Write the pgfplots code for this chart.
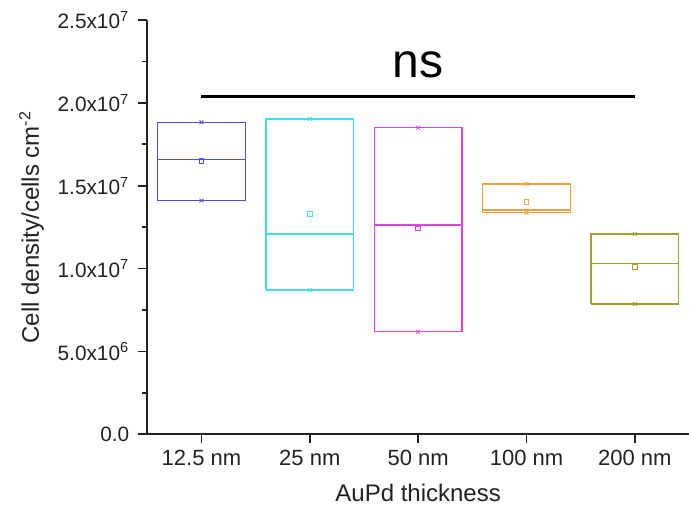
\documentclass[border=0pt]{standalone}
\usepackage{fontspec}
\setmainfont{Liberation Sans}
\usepackage{pgfplots}
\pgfplotsset{compat=1.18}
\usetikzlibrary{calc}

\definecolor{cblue}{HTML}{5050DC}
\definecolor{ccyan}{HTML}{40E0E0}
\definecolor{cmag}{HTML}{E040E0}
\definecolor{corange}{HTML}{F0A040}
\definecolor{colive}{HTML}{A0A030}
\definecolor{axgray}{HTML}{222222}

\pgfplotsset{
  box/.style={line width=0.7pt, mark=none, line join=miter},
  mm/.style={only marks, mark=x, mark size=1.4pt, line width=0.4pt},
  mean/.style={only marks, mark=square, mark size=1.2pt, line width=0.4pt},
}

\begin{document}
\begin{tikzpicture}
% y values in units of 10^6 cells cm^-2; box half width 0.405
\begin{axis}[
  width=270.85pt, height=207.15pt,
  scale only axis,
  xmin=-0.5, xmax=4.5,
  ymin=0, ymax=25,
  axis x line*=bottom,
  axis y line*=left,
  axis line style={axgray, line width=0.9pt},
  tick style={axgray, line width=0.9pt},
  tick align=outside,
  major tick length=4.5pt,
  minor tick length=2.5pt,
  xtick={0,1,2,3,4},
  xticklabels={12.5 nm,25 nm,50 nm,100 nm,200 nm},
  ytick={0,5,10,15,20,25},
  yticklabels={0.0,5.0x10\textsuperscript{6},1.0x10\textsuperscript{7},1.5x10\textsuperscript{7},2.0x10\textsuperscript{7},2.5x10\textsuperscript{7}},
  minor y tick num=1,
  xticklabel style={font=\fontsize{11}{13}\selectfont, text=axgray},
  yticklabel style={font=\fontsize{10.4}{12}\selectfont, text=axgray, xshift=-1pt},
  xlabel={AuPd thickness},
  ylabel={Cell density/cells cm\textsuperscript{-2}},
  label style={font=\fontsize{12}{14}\selectfont, text=axgray},
  xlabel style={yshift=-2pt},
  clip=false,
]
% 12.5 nm
\addplot[box, cblue] coordinates {(-0.405,14.10)(0.405,14.10)(0.405,18.83)(-0.405,18.83)(-0.405,14.10)};
\addplot[box, cblue] coordinates {(-0.405,16.60)(0.405,16.60)};
% 25 nm
\addplot[box, ccyan] coordinates {(0.595,8.71)(1.405,8.71)(1.405,19.03)(0.595,19.03)(0.595,8.71)};
\addplot[box, ccyan] coordinates {(0.595,12.09)(1.405,12.09)};
% 50 nm
\addplot[box, cmag] coordinates {(1.595,6.19)(2.405,6.19)(2.405,18.50)(1.595,18.50)(1.595,6.19)};
\addplot[box, cmag] coordinates {(1.595,12.63)(2.405,12.63)};
% 100 nm
\addplot[box, corange] coordinates {(2.595,13.37)(3.405,13.37)(3.405,15.11)(2.595,15.11)(2.595,13.37)};
\addplot[box, corange] coordinates {(2.595,13.54)(3.405,13.54)};
% 200 nm
\addplot[box, colive] coordinates {(3.595,7.86)(4.405,7.86)(4.405,12.09)(3.595,12.09)(3.595,7.86)};
\addplot[box, colive] coordinates {(3.595,10.32)(4.405,10.32)};

% min / max markers
\addplot[mm, cblue] coordinates {(0,14.10)(0,18.83)};
\addplot[mm, ccyan] coordinates {(1,8.71)(1,19.03)};
\addplot[mm, cmag] coordinates {(2,6.19)(2,18.50)};
\addplot[mm, corange] coordinates {(3,13.37)(3,15.11)};
\addplot[mm, colive] coordinates {(4,7.86)(4,12.09)};

% means
\addplot[mean, cblue] coordinates {(0,16.51)};
\addplot[mean, ccyan] coordinates {(1,13.28)};
\addplot[mean, cmag] coordinates {(2,12.43)};
\addplot[mean, corange] coordinates {(3,14.00)};
\addplot[mean, colive] coordinates {(4,10.08)};

% significance bar
\addplot[black, line width=1.4pt] coordinates {(0,20.37)(4,20.37)};
\node[anchor=base, font=\fontsize{24}{28}\selectfont, inner sep=0pt] at (axis cs:2,21.52) {ns};
\end{axis}
\pgfresetboundingbox
\path ($(current axis.south west)+(-73.65pt,-35.35pt)$) rectangle ($(current axis.north east)+(0pt,10pt)$);
\end{tikzpicture}
\end{document}
